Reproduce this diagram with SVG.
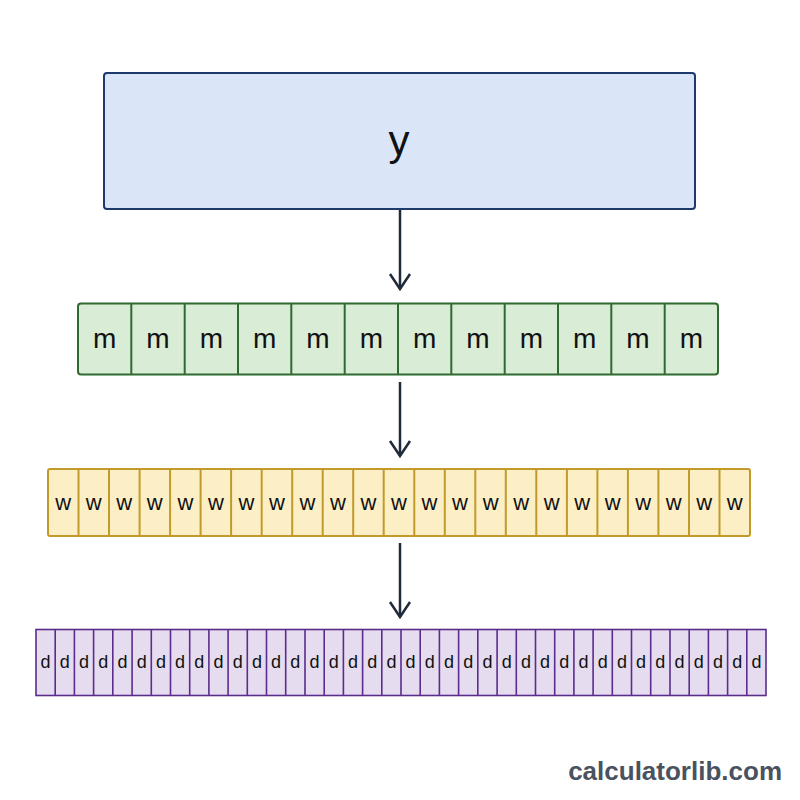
<svg xmlns="http://www.w3.org/2000/svg" width="800" height="800" viewBox="0 0 800 800">
<style>
.lbl{font-family:"Liberation Sans",Arial,sans-serif;fill:#111;text-anchor:middle}
.m{font-size:28px}.w{font-size:22px}.d{font-size:18px}
.conn{stroke:#1f2a3a;stroke-width:2.5;fill:none}
.mbox{fill:#d9ecd6;stroke:#2f6b2f;stroke-width:2}
.wbox{fill:#fcefc6;stroke:#c29a2a;stroke-width:2}
.dbox{fill:#e6dcf0;stroke:#5a2d8c;stroke-width:1.6}
</style>
<defs>
<marker id="arr" markerUnits="userSpaceOnUse" viewBox="-18 -12 20 24" refX="0" refY="0" markerWidth="20" markerHeight="24" orient="auto" overflow="visible">
<path d="M-15,-10 L0,0 L-15,10" fill="none" stroke="#1f2a3a" stroke-width="2.5" stroke-linejoin="miter"/>
</marker>
</defs>
<rect width="800" height="800" fill="#ffffff"/>
<g id="y">
<rect x="104" y="73" width="591" height="136" rx="3" fill="#dae6f8" stroke="#1e3a6b" stroke-width="2"/>
<text class="lbl" x="399" y="155" style="font-size:42px">y</text>
</g>
<g id="m">
<rect class="mbox" x="78" y="303.5" width="640" height="71" rx="3"/>
<path d="M131.3,303.5V374.5M184.7,303.5V374.5M238,303.5V374.5M291.3,303.5V374.5M344.7,303.5V374.5M398,303.5V374.5M451.3,303.5V374.5M504.7,303.5V374.5M558,303.5V374.5M611.3,303.5V374.5M664.7,303.5V374.5" stroke="#2f6b2f" stroke-width="2"/>
<text class="lbl m" x="104.7" y="348">m</text><text class="lbl m" x="158" y="348">m</text><text class="lbl m" x="211.3" y="348">m</text><text class="lbl m" x="264.7" y="348">m</text><text class="lbl m" x="318" y="348">m</text><text class="lbl m" x="371.3" y="348">m</text><text class="lbl m" x="424.7" y="348">m</text><text class="lbl m" x="478" y="348">m</text><text class="lbl m" x="531.3" y="348">m</text><text class="lbl m" x="584.7" y="348">m</text><text class="lbl m" x="638" y="348">m</text><text class="lbl m" x="691.3" y="348">m</text>
</g>
<g id="w">
<rect class="wbox" x="48" y="469" width="702" height="67" rx="2"/>
<path d="M78.5,469V536M109,469V536M139.6,469V536M170.1,469V536M200.6,469V536M231.1,469V536M261.7,469V536M292.2,469V536M322.7,469V536M353.2,469V536M383.7,469V536M414.3,469V536M444.8,469V536M475.3,469V536M505.8,469V536M536.3,469V536M566.9,469V536M597.4,469V536M627.9,469V536M658.4,469V536M689,469V536M719.5,469V536" stroke="#c29a2a" stroke-width="2"/>
<text class="lbl w" x="63.3" y="510">w</text><text class="lbl w" x="93.8" y="510">w</text><text class="lbl w" x="124.3" y="510">w</text><text class="lbl w" x="154.8" y="510">w</text><text class="lbl w" x="185.4" y="510">w</text><text class="lbl w" x="215.9" y="510">w</text><text class="lbl w" x="246.4" y="510">w</text><text class="lbl w" x="276.9" y="510">w</text><text class="lbl w" x="307.4" y="510">w</text><text class="lbl w" x="338" y="510">w</text><text class="lbl w" x="368.5" y="510">w</text><text class="lbl w" x="399" y="510">w</text><text class="lbl w" x="429.5" y="510">w</text><text class="lbl w" x="460" y="510">w</text><text class="lbl w" x="490.6" y="510">w</text><text class="lbl w" x="521.1" y="510">w</text><text class="lbl w" x="551.6" y="510">w</text><text class="lbl w" x="582.1" y="510">w</text><text class="lbl w" x="612.7" y="510">w</text><text class="lbl w" x="643.2" y="510">w</text><text class="lbl w" x="673.7" y="510">w</text><text class="lbl w" x="704.2" y="510">w</text><text class="lbl w" x="734.7" y="510">w</text>
</g>
<g id="d">
<rect class="dbox" x="36" y="629.5" width="730" height="66"/>
<path d="M55.2,629.5V695.5M74.4,629.5V695.5M93.6,629.5V695.5M112.8,629.5V695.5M132.1,629.5V695.5M151.3,629.5V695.5M170.5,629.5V695.5M189.7,629.5V695.5M208.9,629.5V695.5M228.1,629.5V695.5M247.3,629.5V695.5M266.5,629.5V695.5M285.7,629.5V695.5M305,629.5V695.5M324.2,629.5V695.5M343.4,629.5V695.5M362.6,629.5V695.5M381.8,629.5V695.5M401,629.5V695.5M420.2,629.5V695.5M439.4,629.5V695.5M458.6,629.5V695.5M477.8,629.5V695.5M497.1,629.5V695.5M516.3,629.5V695.5M535.5,629.5V695.5M554.7,629.5V695.5M573.9,629.5V695.5M593.1,629.5V695.5M612.3,629.5V695.5M631.5,629.5V695.5M650.7,629.5V695.5M670,629.5V695.5M689.2,629.5V695.5M708.4,629.5V695.5M727.6,629.5V695.5M746.8,629.5V695.5" stroke="#5a2d8c" stroke-width="1.6"/>
<text class="lbl d" x="45.6" y="668">d</text><text class="lbl d" x="64.8" y="668">d</text><text class="lbl d" x="84" y="668">d</text><text class="lbl d" x="103.2" y="668">d</text><text class="lbl d" x="122.4" y="668">d</text><text class="lbl d" x="141.7" y="668">d</text><text class="lbl d" x="160.9" y="668">d</text><text class="lbl d" x="180.1" y="668">d</text><text class="lbl d" x="199.3" y="668">d</text><text class="lbl d" x="218.5" y="668">d</text><text class="lbl d" x="237.7" y="668">d</text><text class="lbl d" x="256.9" y="668">d</text><text class="lbl d" x="276.1" y="668">d</text><text class="lbl d" x="295.3" y="668">d</text><text class="lbl d" x="314.6" y="668">d</text><text class="lbl d" x="333.8" y="668">d</text><text class="lbl d" x="353" y="668">d</text><text class="lbl d" x="372.2" y="668">d</text><text class="lbl d" x="391.4" y="668">d</text><text class="lbl d" x="410.6" y="668">d</text><text class="lbl d" x="429.8" y="668">d</text><text class="lbl d" x="449" y="668">d</text><text class="lbl d" x="468.2" y="668">d</text><text class="lbl d" x="487.4" y="668">d</text><text class="lbl d" x="506.7" y="668">d</text><text class="lbl d" x="525.9" y="668">d</text><text class="lbl d" x="545.1" y="668">d</text><text class="lbl d" x="564.3" y="668">d</text><text class="lbl d" x="583.5" y="668">d</text><text class="lbl d" x="602.7" y="668">d</text><text class="lbl d" x="621.9" y="668">d</text><text class="lbl d" x="641.1" y="668">d</text><text class="lbl d" x="660.3" y="668">d</text><text class="lbl d" x="679.6" y="668">d</text><text class="lbl d" x="698.8" y="668">d</text><text class="lbl d" x="718" y="668">d</text><text class="lbl d" x="737.2" y="668">d</text><text class="lbl d" x="756.4" y="668">d</text>
</g>
<g id="connectors">
<line class="conn" x1="400" y1="210" x2="400" y2="289" marker-end="url(#arr)"/>
<line class="conn" x1="400" y1="382" x2="400" y2="456" marker-end="url(#arr)"/>
<line class="conn" x1="400" y1="543" x2="400" y2="617" marker-end="url(#arr)"/>
</g>
<text x="782" y="780" text-anchor="end" style="font-family:'Liberation Sans',Arial,sans-serif;font-weight:bold;font-size:26px;fill:#4a5260">calculatorlib.com</text>
</svg>
